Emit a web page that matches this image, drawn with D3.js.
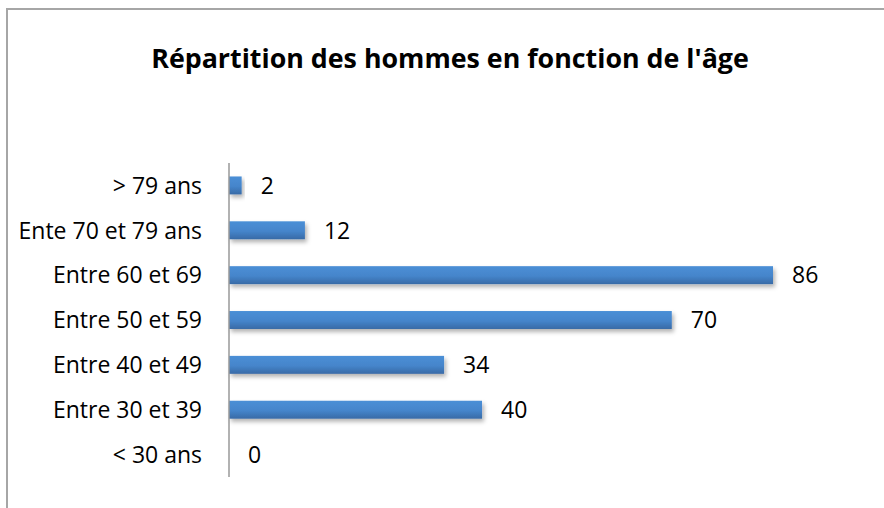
<!DOCTYPE html>
<html>
<head>
<meta charset="utf-8">
<script src="https://cdn.jsdelivr.net/npm/d3@7"></script>
<style>
  body { margin: 0; background: #fff; }
  text { font-family: "Open Sans", sans-serif; fill: #000; }
</style>
</head>
<body>
<div id="chart"></div>
<script>
const width = 884;
const height = 508;

// données (de haut en bas)
const categories = ["> 79 ans", "Ente 70 et 79 ans", "Entre 60 et 69", "Entre 50 et 59", "Entre 40 et 49", "Entre 30 et 39", "< 30 ans"];
const values = [2, 12, 86, 70, 34, 40, 0];

const margin = {top: 163, left: 229, bottom: 31};

const svg = d3.select("#chart").append("svg")
    .attr("width", width)
    .attr("height", height);

const defs = svg.append("defs");
const grad = defs.append("linearGradient")
    .attr("id", "barGrad")
    .attr("x1", 0).attr("y1", 0).attr("x2", 0).attr("y2", 1);
grad.append("stop").attr("offset", "0%").attr("stop-color", "#4b8fd6");
grad.append("stop").attr("offset", "55%").attr("stop-color", "#4585cb");
grad.append("stop").attr("offset", "100%").attr("stop-color", "#386aa6");

const shadow = defs.append("filter")
    .attr("id", "shadow")
    .attr("x", "-10%").attr("y", "-30%")
    .attr("width", "130%").attr("height", "190%");
shadow.append("feDropShadow")
    .attr("dx", 2).attr("dy", 3)
    .attr("stdDeviation", 2)
    .attr("flood-color", "#000")
    .attr("flood-opacity", 0.3);

// cadre
svg.append("path")
    .attr("d", `M7,${height} V9 H${width}`)
    .attr("fill", "none")
    .attr("stroke", "#a6a6a6")
    .attr("stroke-width", 2);

svg.append("text")
    .attr("x", 450)
    .attr("y", 68)
    .attr("text-anchor", "middle")
    .style("font-weight", "bold")
    .style("font-size", "26.8px")
    .text("Répartition des hommes en fonction de l'âge");

const x = d3.scaleLinear()
    .domain([0, 86])
    .range([margin.left, 773]);

const y = d3.scaleBand()
    .domain(categories)
    .range([margin.top, height - margin.bottom])
    .paddingInner(0.6)
    .paddingOuter(0.3);

svg.append("g")
    .selectAll("rect")
    .data(values)
    .join("rect")
    .attr("x", x(0))
    .attr("y", (d, i) => y(categories[i]))
    .attr("width", d => x(d) - x(0))
    .attr("height", y.bandwidth())
    .attr("fill", "url(#barGrad)")
    .attr("filter", d => d > 0 ? "url(#shadow)" : null);

// libellés des catégories
svg.append("g")
    .selectAll("text")
    .data(categories)
    .join("text")
    .attr("x", 202)
    .attr("y", d => y(d) + y.bandwidth() / 2)
    .attr("dy", "0.36em")
    .attr("text-anchor", "end")
    .style("font-size", "23px")
    .text(d => d);

// axe vertical
svg.append("line")
    .attr("x1", x(0)).attr("x2", x(0))
    .attr("y1", margin.top).attr("y2", height - margin.bottom)
    .attr("stroke", "#999")
    .attr("stroke-width", 1.5);

// étiquettes de valeurs
svg.append("g")
    .selectAll("text")
    .data(values)
    .join("text")
    .attr("x", d => x(d) + 19)
    .attr("y", (d, i) => y(categories[i]) + y.bandwidth() / 2)
    .attr("dy", "0.36em")
    .style("font-size", "23px")
    .text(d => d);
</script>
</body>
</html>
